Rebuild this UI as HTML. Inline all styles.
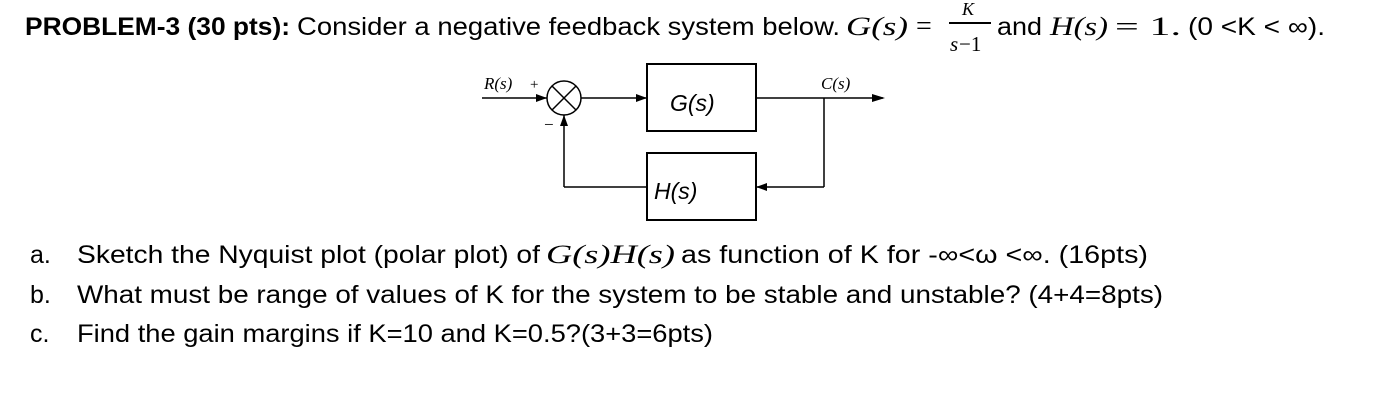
<!DOCTYPE html>
<html><head><meta charset="utf-8"><style>
html,body{margin:0;padding:0;background:#fff;}
svg{display:block;}
.s{font-family:"Liberation Sans",sans-serif;fill:#000;}
.m{font-family:"Liberation Serif",serif;font-style:italic;fill:#000;}
.r{font-family:"Liberation Serif",serif;fill:#000;}
</style></head><body>
<svg width="1381" height="405" viewBox="0 0 1381 405" xmlns="http://www.w3.org/2000/svg">
<!-- Title -->
<text class="s" x="25" y="35" font-size="25" font-weight="bold" textLength="265" lengthAdjust="spacingAndGlyphs">PROBLEM-3 (30 pts):</text>
<text class="s" x="297" y="35" font-size="25" textLength="543" lengthAdjust="spacingAndGlyphs">Consider a negative feedback system below.</text>
<text class="m" x="846" y="35" font-size="26" textLength="62" lengthAdjust="spacingAndGlyphs">G(s)</text>
<text class="r" x="916" y="35" font-size="28">=</text>
<text class="m" x="962" y="15" font-size="18">K</text>
<line x1="949" y1="23" x2="991" y2="23" stroke="#000" stroke-width="2"/>
<text class="m" x="950" y="51" font-size="21">s</text>
<text class="r" x="959" y="51" font-size="21">−1</text>
<text class="s" x="997" y="35" font-size="25" textLength="45" lengthAdjust="spacingAndGlyphs">and</text>
<text class="m" x="1050" y="35" font-size="26" textLength="58" lengthAdjust="spacingAndGlyphs">H(s)</text>
<text class="r" x="1115" y="35" font-size="26" textLength="66" lengthAdjust="spacingAndGlyphs">= 1.</text>
<text class="s" x="1188" y="35" font-size="25" textLength="137" lengthAdjust="spacingAndGlyphs">(0 &lt;K &lt; ∞).</text>

<!-- Diagram -->
<g stroke="#000" stroke-width="1.5" fill="none">
<line x1="482" y1="98" x2="547" y2="98"/>
<circle cx="564" cy="98" r="17"/>
<line x1="552" y1="86" x2="576" y2="110"/>
<line x1="576" y1="86" x2="552" y2="110"/>
<line x1="581" y1="98" x2="647" y2="98"/>
<rect x="647" y="64" width="109" height="67" stroke-width="2"/>
<line x1="756" y1="98" x2="883" y2="98"/>
<line x1="824" y1="98" x2="824" y2="187"/>
<line x1="824" y1="187" x2="756" y2="187"/>
<rect x="647" y="153" width="109" height="67" stroke-width="2"/>
<line x1="647" y1="187" x2="564" y2="187"/>
<line x1="564" y1="187" x2="564" y2="115"/>
</g>
<g fill="#000">
<polygon points="547,98 536,94 536,102"/>
<polygon points="647,98 636,94 636,102"/>
<polygon points="885,98 872,94 872,102"/>
<polygon points="756,187 767,183 767,191"/>
<polygon points="564,115 560,126 568,126"/>
</g>
<text class="m" x="484" y="89" font-size="17">R(s)</text>
<text class="r" x="530" y="89" font-size="15">+</text>
<text class="r" x="544" y="130" font-size="17">−</text>
<text class="m" x="821" y="89" font-size="17">C(s)</text>
<text class="s" x="670" y="111" font-size="23" font-style="italic">G(s)</text>
<text class="s" x="654" y="199" font-size="23" font-style="italic">H(s)</text>

<!-- Items -->
<text class="s" x="30" y="263" font-size="25">a.</text>
<text class="s" x="77" y="263" font-size="25" textLength="463" lengthAdjust="spacingAndGlyphs">Sketch the Nyquist plot (polar plot) of</text>
<text class="m" x="546" y="263" font-size="26" textLength="129" lengthAdjust="spacingAndGlyphs">G(s)H(s)</text>
<text class="s" x="681" y="263" font-size="25" textLength="467" lengthAdjust="spacingAndGlyphs">as function of K for -∞&lt;ω &lt;∞. (16pts)</text>
<text class="s" x="30" y="303" font-size="25">b.</text>
<text class="s" x="77" y="303" font-size="25" textLength="1086" lengthAdjust="spacingAndGlyphs">What must be range of values of K for the system to be stable and unstable? (4+4=8pts)</text>
<text class="s" x="30" y="342" font-size="25">c.</text>
<text class="s" x="77" y="342" font-size="25" textLength="636" lengthAdjust="spacingAndGlyphs">Find the gain margins if K=10 and K=0.5?(3+3=6pts)</text>
</svg>
</body></html>
